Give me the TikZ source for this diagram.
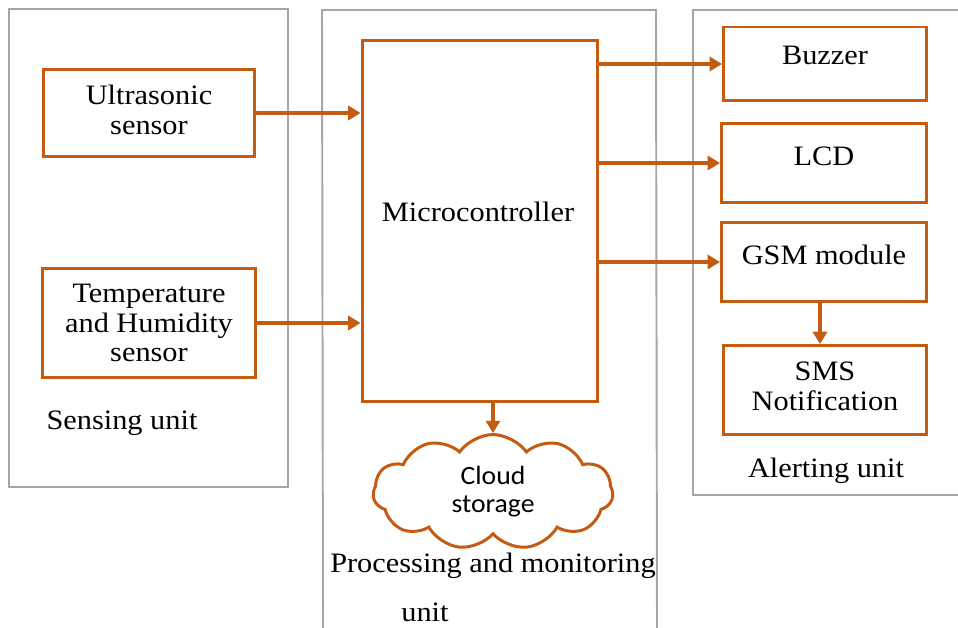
\documentclass[tikz,border=0pt]{standalone}
\usepackage{fontspec}
\setmainfont[FakeStretch=1.08]{Liberation Serif}
\newfontfamily\cloudfont[FakeStretch=1.05]{Carlito}
\usetikzlibrary{shapes.symbols,arrows.meta}
\definecolor{burnt}{HTML}{C55A11}
\definecolor{unitgray}{HTML}{A6A6A6}

\begin{document}
\begin{tikzpicture}[x=0.02cm,y=-0.02cm,
    block/.style={draw=burnt,line width=1.7pt,align=center,inner sep=2pt,
      font=\fontsize{16}{19}\selectfont},
    unit/.style={draw=unitgray,line width=1.1pt},
    lbl/.style={font=\fontsize{16}{19}\selectfont},
    flow/.style={draw=burnt,line width=2pt,-{Triangle[length=7pt,width=8pt]}}]

  \useasboundingbox (0,0) rectangle (958,628);

  % unit frames
  \draw [unit] (9,9) rectangle (288,487);
  \draw [unit] (323,628) -- (322,10) -- (656,10) -- (657,628);
  \draw [unit] (960,10) -- (693,10) -- (693,495) -- (960,495);

  % sensing unit
  \node [block,minimum width=4.24cm,minimum height=1.74cm,text depth=3.5pt] (ultra) at (149,113) {Ultrasonic\\[-2pt]sensor};
  \node [block,minimum width=4.26cm,minimum height=2.2cm] (temp) at (149,323) {Temperature\\[-2pt]and Humidity\\[-2pt]sensor};
  \node [lbl] (sense) at (122,423) {Sensing unit};

  % processing unit
  \node [block,minimum width=4.72cm,minimum height=7.24cm] (micro) at (480,221) {};
  \node [lbl] (microtxt) at (478,212) {Microcontroller};
  \node [cloud,cloud puffs=11,cloud puff arc=110,aspect=2.3,draw=burnt,line width=1.7pt,
    minimum width=4.8cm,minimum height=2.05cm,align=center,
    font=\cloudfont\fontsize{15}{17}\selectfont] (cloud) at (493,492) {Cloud\\[-1pt]storage};
  \node [lbl] (proc) at (493,566) {Processing and monitoring};
  \node [lbl] (procb) at (425,612) {unit};

  % alerting unit
  \node [block,minimum width=4.06cm,minimum height=1.48cm,text depth=10pt] (buzz) at (825,64) {Buzzer};
  \node [block,minimum width=4.1cm,minimum height=1.58cm,text depth=8pt] (lcd) at (824,163) {LCD};
  \node [block,minimum width=4.1cm,minimum height=1.58cm,text depth=8pt] (gsm) at (824,262) {GSM module};
  \node [block,minimum width=4.06cm,minimum height=1.78cm,text depth=4pt] (sms) at (825,390) {SMS\\[-2pt]Notification};
  \node [lbl] (alert) at (826,471) {Alerting unit};

  \draw [flow] (ultra.east) to (micro.west |- ultra.east);
  \draw [flow] (temp.east) to (micro.west |- temp.east);
  \draw [flow] (micro.east |- buzz.west) to (buzz.west);
  \draw [flow] (micro.east |- lcd.west) to (lcd.west);
  \draw [flow] (micro.east |- gsm.west) to (gsm.west);
  \draw [flow] (gsm.south -| 820,0) to (sms.north -| 820,0);
  \draw [flow] (micro.south -| cloud.north) to (cloud.north);

\end{tikzpicture}
\end{document}
